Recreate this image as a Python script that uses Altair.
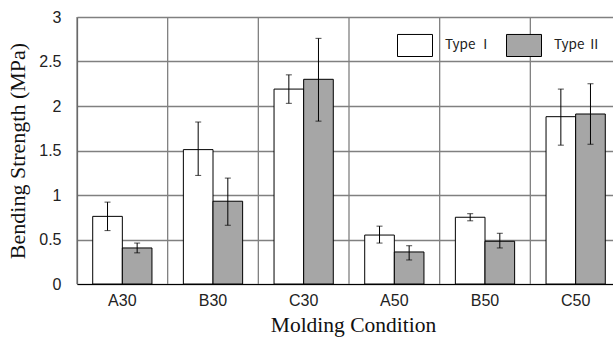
import altair as alt
import pandas as pd

categories = ["A30", "B30", "C30", "A50", "B50", "C50"]
types = ["Type Ⅰ", "Type Ⅱ"]
type1_mean = [0.76, 1.51, 2.19, 0.55, 0.75, 1.88]
type1_low = [0.60, 1.22, 2.03, 0.46, 0.71, 1.56]
type1_high = [0.92, 1.82, 2.35, 0.65, 0.79, 2.19]
type2_mean = [0.405, 0.93, 2.30, 0.36, 0.48, 1.91]
type2_low = [0.35, 0.66, 1.83, 0.27, 0.405, 1.57]
type2_high = [0.46, 1.19, 2.76, 0.43, 0.57, 2.25]

rows = []
for i, c in enumerate(categories):
    rows.append({"cond": c, "type": types[0], "mean": type1_mean[i], "lo": type1_low[i], "hi": type1_high[i]})
    rows.append({"cond": c, "type": types[1], "mean": type2_mean[i], "lo": type2_low[i], "hi": type2_high[i]})
df = pd.DataFrame(rows)
bounds = pd.DataFrame({"cond": categories})

W = 536
H = 267
xscale = alt.Scale(domain=categories, range=[0, 544], paddingInner=0, paddingOuter=0)
offscale = alt.Scale(domain=types, paddingInner=0, paddingOuter=0.53)
yscale = alt.Scale(domain=[0, 3], nice=False)

x_axis = alt.Axis(title="Molding Condition", labelAngle=0, ticks=False, grid=False,
                  domainColor="#000000", domainWidth=1.2,
                  labelFont="Liberation Sans", labelFontSize=16, labelColor="#222222",
                  labelPadding=8, titleFont="Liberation Serif", titleFontSize=21.5,
                  titleFontWeight="normal", titleColor="#111111", titleX=276, titlePadding=6)
y_axis = alt.Axis(title="Bending Strength (MPa)", values=[0, 0.5, 1, 1.5, 2, 2.5, 3], format="~g",
                  ticks=False, grid=True, gridColor="#808080", gridWidth=1.3,
                  domainColor="#404040", domainWidth=1.2,
                  labelFont="Liberation Sans", labelFontSize=16, labelColor="#222222",
                  labelPadding=16, titleFont="Liberation Serif", titleFontSize=22,
                  titleFontWeight="normal", titleColor="#111111", titlePadding=9)

x_enc = alt.X("cond:N", scale=xscale, sort=categories, axis=x_axis)
y_enc = alt.Y("mean:Q", scale=yscale, axis=y_axis)

vlines = alt.Chart(bounds).mark_rule(color="#808080", strokeWidth=1.3).encode(
    x=alt.X("cond:N", scale=xscale, sort=categories, bandPosition=0, axis=x_axis)
)

bars = alt.Chart(df).mark_bar(stroke="#000000", strokeWidth=1).encode(
    x=x_enc,
    xOffset=alt.XOffset("type:N", scale=offscale, sort=types),
    y=y_enc,
    fill=alt.Fill("type:N", scale=alt.Scale(domain=types, range=["#ffffff", "#a6a6a6"]),
                  legend=alt.Legend(title=None, orient="none", legendX=320, legendY=10, direction="horizontal",
                                    symbolType="M-1,-0.63L1,-0.63L1,0.63L-1,0.63Z", symbolSize=1225,
                                    symbolStrokeColor="#000000", symbolStrokeWidth=1,
                                    labelFont="Noto Sans CJK JP", labelFontSize=13.5, labelColor="#222222",
                                    labelOffset=12, columnPadding=12, padding=0)),
)

err = alt.Chart(df).mark_rule(color="#000000", strokeWidth=1).encode(
    x=x_enc,
    xOffset=alt.XOffset("type:N", scale=offscale, sort=types),
    y=alt.Y("lo:Q", scale=yscale, axis=y_axis),
    y2="hi:Q",
)
cap_lo = alt.Chart(df).mark_tick(color="#000000", thickness=1, size=6).encode(
    x=x_enc,
    xOffset=alt.XOffset("type:N", scale=offscale, sort=types),
    y=alt.Y("lo:Q", scale=yscale, axis=y_axis),
)
cap_hi = alt.Chart(df).mark_tick(color="#000000", thickness=1, size=6).encode(
    x=x_enc,
    xOffset=alt.XOffset("type:N", scale=offscale, sort=types),
    y=alt.Y("hi:Q", scale=yscale, axis=y_axis),
)

chart = alt.layer(vlines, bars, err, cap_lo, cap_hi).properties(
    width=W, height=H,
    autosize=alt.AutoSizeParams(type="none"),
    padding={"left": 77, "top": 17, "right": 0, "bottom": 53},
    background="#ffffff",
).configure_view(stroke=None)

chart.save("out.html", embed_options={"renderer": "svg", "actions": False})
